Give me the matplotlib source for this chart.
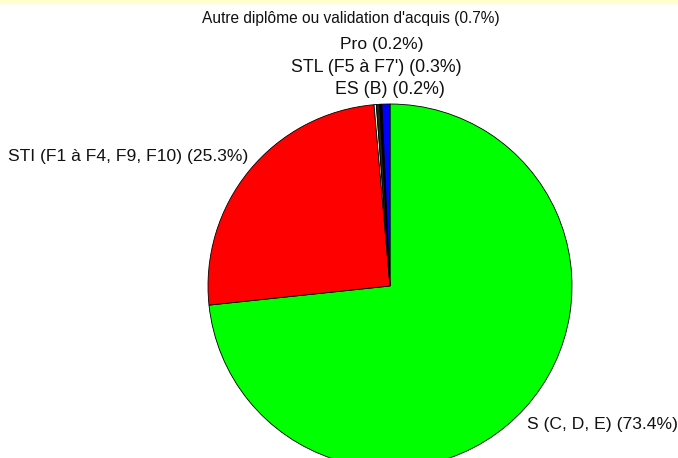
import matplotlib.pyplot as plt
from matplotlib.patches import Rectangle

plt.rcParams['font.family'] = ['Liberation Sans', 'DejaVu Sans']

# slices, clockwise from 12 o'clock
categories = ["S (C, D, E)", "STI (F1 à F4, F9, F10)", "ES (B)",
              "STL (F5 à F7')", "Pro", "Autre diplôme ou validation d'acquis"]
shares = [73.4, 25.3, 0.2, 0.3, 0.2, 0.7]
colors = ["#00ff00", "#ff0000", "#ffffcc", "#222222", "#000000", "#0000ff"]

# label anchor (pixel x, pixel y from top, horizontal alignment, size)
label_pos = [(527, 424, 'left', 12.6), (248, 157, 'right', 12.6),
             (390, 90, 'center', 12.8), (376, 68, 'center', 12.8),
             (382, 44, 'center', 12.6), (351, 18, 'center', 11.2)]

W, H = 678, 458
fig = plt.figure(figsize=(W / 100, H / 100), dpi=100)
ax = fig.add_axes([0, 0, 1, 1])

ax.pie(shares, colors=colors, startangle=90, counterclock=False,
       center=(390, H - 286), radius=182,
       wedgeprops=dict(edgecolor='black', linewidth=0.6))
ax.set_xlim(0, W)
ax.set_ylim(0, H)
ax.axis('off')

for name, val, (x, y, ha, fs) in zip(categories, shares, label_pos):
    ax.text(x, H - y, f"{name} ({val}%)", ha=ha, va='center',
            fontsize=fs, color='#111111')

fig.patches.append(Rectangle((0, 1 - 3 / H), 1, 3 / H, transform=fig.transFigure,
                             color='#ffffcc', zorder=5))

fig.savefig("out.png", dpi=100)
